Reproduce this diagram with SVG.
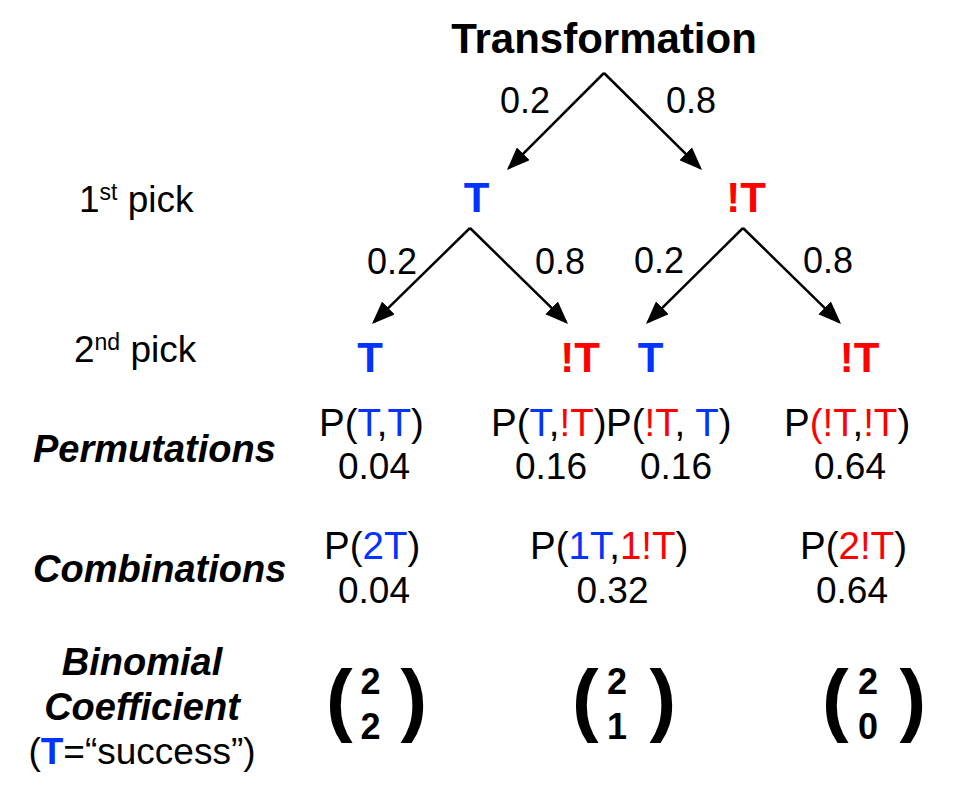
<svg xmlns="http://www.w3.org/2000/svg" width="970" height="800" viewBox="0 0 970 800">
<defs>
<style>
text { font-family: "Liberation Sans", Arial, sans-serif; fill: #000; }
.title { font-size: 42px; font-weight: bold; }
.node { font-size: 42px; font-weight: bold; }
.body { font-size: 37px; }
.pp { font-size: 38.5px; }
.lab { font-size: 36px; }
.hdr { font-size: 38px; font-weight: bold; font-style: italic; }
.b { fill: #0433FF; }
.r { fill: #FF0000; }
.par { font-size: 80px; font-weight: bold; }
.dig { font-size: 36px; font-weight: bold; }
.conn line { stroke: #000; stroke-width: 2.5; fill: none; marker-end: url(#ah); }
</style>
<marker id="ah" markerUnits="userSpaceOnUse" markerWidth="23" markerHeight="18" viewBox="0 0 23 18" refX="20" refY="9" orient="auto">
<path d="M0,0 L23,9 L0,18 z" fill="#000"/>
</marker>
</defs>
<rect width="970" height="800" fill="#fff"/>

<g id="root"><text class="title" x="604" y="53" text-anchor="middle">Transformation</text></g>

<g id="row-labels">
<text class="body" x="79" y="212">1<tspan font-size="23" dy="-12">st</tspan><tspan dy="12"> pick</tspan></text>
<text class="body" x="74" y="362">2<tspan font-size="23" dy="-12">nd</tspan><tspan dy="12"> pick</tspan></text>
<text class="hdr" x="33" y="462">Permutations</text>
<text class="hdr" x="33" y="582">Combinations</text>
<text class="hdr" x="142" y="675" text-anchor="middle">Binomial</text>
<text class="hdr" x="142" y="720" text-anchor="middle">Coefficient</text>
<text class="body" x="142" y="764" text-anchor="middle">(<tspan class="b" font-weight="bold">T</tspan>=“success”)</text>
</g>

<g id="n1-T"><text class="node b" x="476.5" y="212" text-anchor="middle">T</text></g>
<g id="n1-notT"><text class="node r" x="746" y="212" text-anchor="middle">!T</text></g>
<g id="n2-TT"><text class="node b" x="370" y="372" text-anchor="middle">T</text></g>
<g id="n2-TnT"><text class="node r" x="580" y="372" text-anchor="middle">!T</text></g>
<g id="n2-nTT"><text class="node b" x="650.5" y="372" text-anchor="middle">T</text></g>
<g id="n2-nTnT"><text class="node r" x="859.5" y="372" text-anchor="middle">!T</text></g>

<g id="connectors" class="conn">
<line x1="604" y1="73" x2="509.1" y2="167.9"/>
<line x1="604" y1="73" x2="699.9" y2="167.9"/>
<line x1="470" y1="228" x2="374.1" y2="321.9"/>
<line x1="470" y1="228" x2="565.9" y2="321.9"/>
<line x1="743" y1="228" x2="648.1" y2="321.9"/>
<line x1="743" y1="228" x2="838.9" y2="321.9"/>
</g>

<g id="edge-labels">
<text class="lab" x="500" y="113">0.2</text>
<text class="lab" x="666" y="113">0.8</text>
<text class="lab" x="367" y="274">0.2</text>
<text class="lab" x="535" y="274">0.8</text>
<text class="lab" x="634" y="273">0.2</text>
<text class="lab" x="803" y="273">0.8</text>
</g>

<g id="permutations">
<text class="pp" x="319" y="436">P(<tspan class="b">T</tspan>,<tspan class="b">T</tspan>)</text>
<text class="body" x="374" y="479" text-anchor="middle">0.04</text>
<text class="pp" x="491" y="436">P(<tspan class="b">T</tspan>,<tspan class="r">!T</tspan>)</text>
<text class="body" x="551" y="479" text-anchor="middle">0.16</text>
<text class="pp" x="606" y="436">P(<tspan class="r">!T</tspan>, <tspan class="b">T</tspan>)</text>
<text class="body" x="676" y="479" text-anchor="middle">0.16</text>
<text class="pp" x="784" y="436">P<tspan class="r">(!T</tspan>,<tspan class="r">!T</tspan>)</text>
<text class="body" x="850" y="479" text-anchor="middle">0.64</text>
</g>

<g id="combinations">
<text class="pp" x="324" y="559">P(<tspan class="b">2T</tspan>)</text>
<text class="body" x="374" y="603" text-anchor="middle">0.04</text>
<text class="pp" x="530" y="559">P(<tspan class="b">1T</tspan>,<tspan class="r">1!T</tspan>)</text>
<text class="body" x="612.5" y="603" text-anchor="middle">0.32</text>
<text class="pp" x="800" y="559">P(<tspan class="r">2!T</tspan>)</text>
<text class="body" x="852" y="603" text-anchor="middle">0.64</text>
</g>

<g id="binom-22">
<text class="par" x="326" y="726">(</text>
<text class="par" x="400.5" y="726">)</text>
<text class="dig" x="370.5" y="694" text-anchor="middle">2</text>
<text class="dig" x="370.5" y="739" text-anchor="middle">2</text>
</g>
<g id="binom-21">
<text class="par" x="572" y="726">(</text>
<text class="par" x="649.5" y="726">)</text>
<text class="dig" x="617" y="694" text-anchor="middle">2</text>
<text class="dig" x="617" y="739" text-anchor="middle">1</text>
</g>
<g id="binom-20">
<text class="par" x="822" y="726">(</text>
<text class="par" x="899.5" y="726">)</text>
<text class="dig" x="868" y="694" text-anchor="middle">2</text>
<text class="dig" x="868" y="739" text-anchor="middle">0</text>
</g>
</svg>
